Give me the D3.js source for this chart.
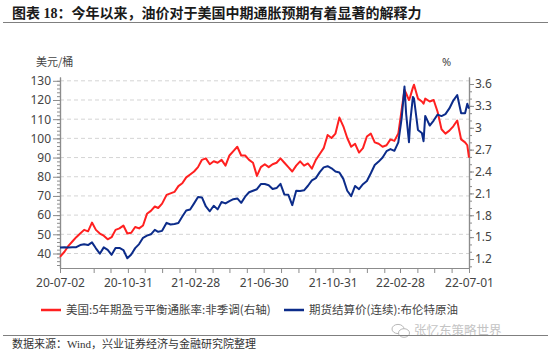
<!DOCTYPE html>
<html>
<head>
<meta charset="utf-8">
<script src="https://cdn.jsdelivr.net/npm/d3@7"></script>
<style>
body { margin: 0; background: #fff; }
svg { display: block; }
</style>
</head>
<body>
<script>
var width = 550;
var height = 354;

var dates = [
  "2020-07-02","2020-07-10","2020-07-17","2020-07-24","2020-07-31",
  "2020-08-07","2020-08-14","2020-08-21","2020-08-28",
  "2020-09-04","2020-09-11","2020-09-18","2020-09-25",
  "2020-10-02","2020-10-09","2020-10-16","2020-10-23","2020-10-30",
  "2020-11-06","2020-11-13","2020-11-20","2020-11-27",
  "2020-12-04","2020-12-11","2020-12-18","2020-12-24","2020-12-31",
  "2021-01-08","2021-01-15","2021-01-22","2021-01-29",
  "2021-02-05","2021-02-12","2021-02-19","2021-02-26",
  "2021-03-05","2021-03-12","2021-03-19","2021-03-26",
  "2021-04-02","2021-04-09","2021-04-16","2021-04-23","2021-04-30",
  "2021-05-07","2021-05-14","2021-05-21","2021-05-28",
  "2021-06-04","2021-06-11","2021-06-18","2021-06-25",
  "2021-07-02","2021-07-09","2021-07-16","2021-07-23","2021-07-30",
  "2021-08-06","2021-08-13","2021-08-20","2021-08-27",
  "2021-09-03","2021-09-10","2021-09-17","2021-09-24",
  "2021-10-01","2021-10-08","2021-10-15","2021-10-22","2021-10-29",
  "2021-11-05","2021-11-12","2021-11-19","2021-11-26",
  "2021-12-03","2021-12-10","2021-12-17","2021-12-24","2021-12-31",
  "2022-01-07","2022-01-14","2022-01-21","2022-01-28",
  "2022-02-04","2022-02-11","2022-02-18","2022-02-25",
  "2022-03-03","2022-03-08","2022-03-11","2022-03-16","2022-03-18","2022-03-23","2022-03-25",
  "2022-04-01","2022-04-08","2022-04-11","2022-04-14","2022-04-22","2022-04-29",
  "2022-05-06","2022-05-13","2022-05-20","2022-05-27",
  "2022-06-03","2022-06-10","2022-06-17","2022-06-24","2022-06-28","2022-07-01"
];

// 期货结算价(连续):布伦特原油, 美元/桶 (left axis)
var brent = [
  43.1,43.2,43.1,43.3,43.3,
  44.4,44.8,44.4,45.8,
  42.7,39.9,43.2,41.9,
  39.3,42.9,42.9,41.8,37.5,
  39.5,42.8,44.9,48.2,
  49.3,50.0,52.3,51.3,51.8,
  56.0,55.1,55.4,55.9,
  59.3,62.4,62.9,66.1,
  69.4,69.2,64.5,62.0,
  64.9,63.0,66.8,66.1,67.3,
  68.3,68.7,66.4,69.6,
  71.9,72.7,73.5,76.2,
  76.2,75.6,73.6,74.1,76.3,
  70.7,70.6,65.2,72.7,
  72.6,72.9,75.3,78.1,
  79.3,82.4,84.9,85.5,84.4,
  82.7,82.2,78.9,72.7,
  69.9,75.2,73.5,76.1,77.8,
  81.8,86.1,87.9,90.0,
  93.3,94.4,93.5,97.9,
  110.5,127.0,112.7,98.0,107.9,121.6,120.7,
  104.4,102.8,98.5,111.7,106.7,109.3,
  112.4,111.6,112.6,115.6,
  119.7,122.6,113.1,113.1,118.0,115.5
];

// 美国:5年期盈亏平衡通胀率:非季调, % (right axis)
var breakeven = [
  1.23,1.30,1.38,1.44,1.50,
  1.55,1.60,1.58,1.70,
  1.60,1.55,1.52,1.47,
  1.50,1.60,1.62,1.66,1.55,
  1.56,1.64,1.62,1.66,
  1.82,1.86,1.92,1.90,1.96,
  2.08,2.10,2.12,2.20,
  2.24,2.32,2.36,2.40,
  2.46,2.56,2.58,2.50,
  2.54,2.52,2.56,2.48,2.62,
  2.68,2.74,2.62,2.62,
  2.56,2.52,2.34,2.46,
  2.50,2.46,2.50,2.52,2.58,
  2.52,2.46,2.40,2.48,
  2.54,2.48,2.51,2.44,
  2.56,2.64,2.72,2.90,2.86,
  2.92,3.14,3.02,2.86,
  2.74,2.78,2.66,2.72,2.88,
  2.92,2.80,2.78,2.74,
  2.76,2.84,2.82,2.92,
  3.25,3.52,3.47,3.38,3.42,3.55,3.59,
  3.40,3.36,3.33,3.40,3.36,3.38,
  3.22,2.98,2.92,2.96,
  3.02,3.10,2.84,2.80,2.76,2.59
];

var leftTicks = [40, 50, 60, 70, 80, 90, 100, 110, 120, 130];
var rightTicks = [1.2, 1.5, 1.8, 2.1, 2.4, 2.7, 3.0, 3.3, 3.6];
var xLabels = ["20-07-02", "20-10-31", "21-02-28", "21-06-30", "21-10-31", "22-02-28", "22-07-01"];

var parse = d3.timeParse("%Y-%m-%d");
var parseLabel = d3.timeParse("%y-%m-%d");

var plotL = 60, plotR = 469, plotT = 77, plotB = 268;

var x = d3.scaleTime()
    .domain([parseLabel(xLabels[0]), parseLabel(xLabels[xLabels.length - 1])])
    .range([plotL, plotR]);
var yL = d3.scaleLinear().domain([32.44, 131.98]).range([plotB, plotT]);
var yR = d3.scaleLinear().domain([1.077, 3.696]).range([plotB, plotT]);

var svg = d3.select("body").append("svg")
    .attr("width", width)
    .attr("height", height);

svg.append("rect").attr("width", width).attr("height", height).attr("fill", "#fff");

// title
svg.append("text")
    .attr("x", 12)
    .attr("y", 17.5)
    .attr("font-family", "'Liberation Serif', 'Noto Sans CJK SC', serif")
    .attr("font-weight", "bold")
    .attr("font-size", "14px")
    .attr("fill", "#1a1a1a")
    .text("图表 18：今年以来，油价对于美国中期通胀预期有着显著的解释力");

svg.append("line")
    .attr("x1", 3).attr("x2", 548)
    .attr("y1", 22.5).attr("y2", 22.5)
    .attr("stroke", "#7f7f7f").attr("stroke-width", 1);

// unit labels
svg.append("text")
    .attr("x", 36).attr("y", 66)
    .attr("font-family", "'Noto Sans CJK SC', sans-serif")
    .attr("font-size", "11px").attr("fill", "#444")
    .text("美元/桶");
svg.append("text")
    .attr("x", 442).attr("y", 66)
    .attr("font-family", "'Noto Sans', sans-serif")
    .attr("font-size", "11px").attr("fill", "#444")
    .text("%");

// gridlines
svg.append("g").selectAll("line.grid").data(leftTicks).enter()
    .append("line")
    .attr("class", "grid")
    .attr("x1", plotL).attr("x2", plotR)
    .attr("y1", function (d) { return yL(d); })
    .attr("y2", function (d) { return yL(d); })
    .attr("stroke", "#d4d4d4")
    .attr("stroke-dasharray", "4,3")
    .attr("stroke-width", 1);

var axisColor = "#8c8c8c";
var textColor = "#444";

function styleAxis(g) {
    g.selectAll("path.domain").attr("stroke", axisColor).attr("stroke-width", 1.2);
    g.selectAll(".tick line").attr("stroke", axisColor);
    g.selectAll("text")
        .attr("fill", textColor)
        .attr("font-family", "'Noto Sans', sans-serif")
        .attr("font-size", "12px");
}

// left axis
svg.append("g")
    .attr("transform", "translate(" + plotL + ",0)")
    .call(d3.axisLeft(yL).tickValues(d3.range(34, 131, 2)).tickSize(3).tickFormat("").tickSizeOuter(0))
    .call(styleAxis);
svg.append("g")
    .attr("transform", "translate(" + plotL + ",0)")
    .call(d3.axisLeft(yL).tickValues(leftTicks).tickSize(7).tickPadding(2).tickSizeOuter(0))
    .call(styleAxis);

// right axis
svg.append("g")
    .attr("transform", "translate(" + plotR + ",0)")
    .call(d3.axisRight(yR).tickValues(d3.range(11, 37, 1).map(function (d) { return d / 10; }))
        .tickSize(3).tickFormat("").tickSizeOuter(0))
    .call(styleAxis);
svg.append("g")
    .attr("transform", "translate(" + plotR + ",0)")
    .call(d3.axisRight(yR).tickValues(rightTicks).tickSize(5).tickPadding(1)
        .tickFormat(d3.format("~g")).tickSizeOuter(0))
    .call(styleAxis);

// bottom axis: month ends as minor ticks, labelled dates as major
var labelDates = xLabels.map(function (s) { return parseLabel(s); });
var monthEnds = d3.timeMonth.range(d3.timeMonth.offset(labelDates[0], 1), labelDates[labelDates.length - 1])
    .map(function (d) { return d3.timeDay.offset(d3.timeMonth.floor(d), -1); })
    .filter(function (d) {
        return labelDates.every(function (l) { return Math.abs(l - d) > 3 * 864e5; });
    });

svg.append("g")
    .attr("transform", "translate(0," + plotB + ")")
    .call(d3.axisBottom(x).tickValues(monthEnds).tickSize(5).tickFormat("").tickSizeOuter(0))
    .call(styleAxis);
svg.append("g")
    .attr("transform", "translate(0," + plotB + ")")
    .call(d3.axisBottom(x).tickValues(labelDates).tickSize(5).tickPadding(5)
        .tickFormat(d3.timeFormat("%y-%m-%d")).tickSizeOuter(0))
    .call(styleAxis);

// series
var redData = dates.map(function (d, i) { return { date: parse(d), v: breakeven[i] }; });
var blueData = dates.map(function (d, i) { return { date: parse(d), v: brent[i] }; });

svg.append("path")
    .datum(redData)
    .attr("fill", "none")
    .attr("stroke", "#ff2020")
    .attr("stroke-width", 2)
    .attr("stroke-linejoin", "round")
    .attr("d", d3.line().x(function (d) { return x(d.date); }).y(function (d) { return yR(d.v); }));

svg.append("path")
    .datum(blueData)
    .attr("fill", "none")
    .attr("stroke", "#0c2c8a")
    .attr("stroke-width", 2)
    .attr("stroke-linejoin", "round")
    .attr("d", d3.line().x(function (d) { return x(d.date); }).y(function (d) { return yL(d.v); }));

// legend
var legend = [
    { name: "美国:5年期盈亏平衡通胀率:非季调(右轴)", color: "#ff2020", x: 41 },
    { name: "期货结算价(连续):布伦特原油", color: "#0c2c8a", x: 284 }
];
var lg = svg.append("g").selectAll("g").data(legend).enter().append("g")
    .attr("transform", function (d) { return "translate(" + d.x + ",310)"; });
lg.append("line")
    .attr("x1", 0).attr("x2", 20).attr("y1", 0).attr("y2", 0)
    .attr("stroke", function (d) { return d.color; })
    .attr("stroke-width", 2.5);
lg.append("text")
    .attr("x", 25).attr("y", 4)
    .attr("font-family", "'Noto Sans CJK SC', sans-serif")
    .attr("font-size", "11.5px")
    .attr("fill", textColor)
    .text(function (d) { return d.name; });

// watermark
var wm = svg.append("g").attr("transform", "translate(392,324)").attr("fill", "none").attr("stroke", "#b8b8b8");
wm.append("ellipse").attr("cx", 6).attr("cy", 5).attr("rx", 6).attr("ry", 4.6);
wm.append("ellipse").attr("cx", 12).attr("cy", 9).attr("rx", 5.5).attr("ry", 4.3).attr("fill", "#fff");
svg.append("text")
    .attr("x", 414).attr("y", 335)
    .attr("font-family", "'Noto Sans CJK SC', sans-serif")
    .attr("font-size", "12.5px")
    .attr("fill", "#c4c4c4")
    .text("张忆东策略世界");

// footer
svg.append("line")
    .attr("x1", 3).attr("x2", 548)
    .attr("y1", 335.5).attr("y2", 335.5)
    .attr("stroke", "#7f7f7f").attr("stroke-width", 1);
svg.append("text")
    .attr("x", 12).attr("y", 347.5)
    .attr("font-family", "'Liberation Serif', 'Noto Sans CJK SC', serif")
    .attr("font-size", "11px")
    .attr("fill", "#333")
    .text("数据来源：Wind，兴业证券经济与金融研究院整理");
</script>
</body>
</html>
